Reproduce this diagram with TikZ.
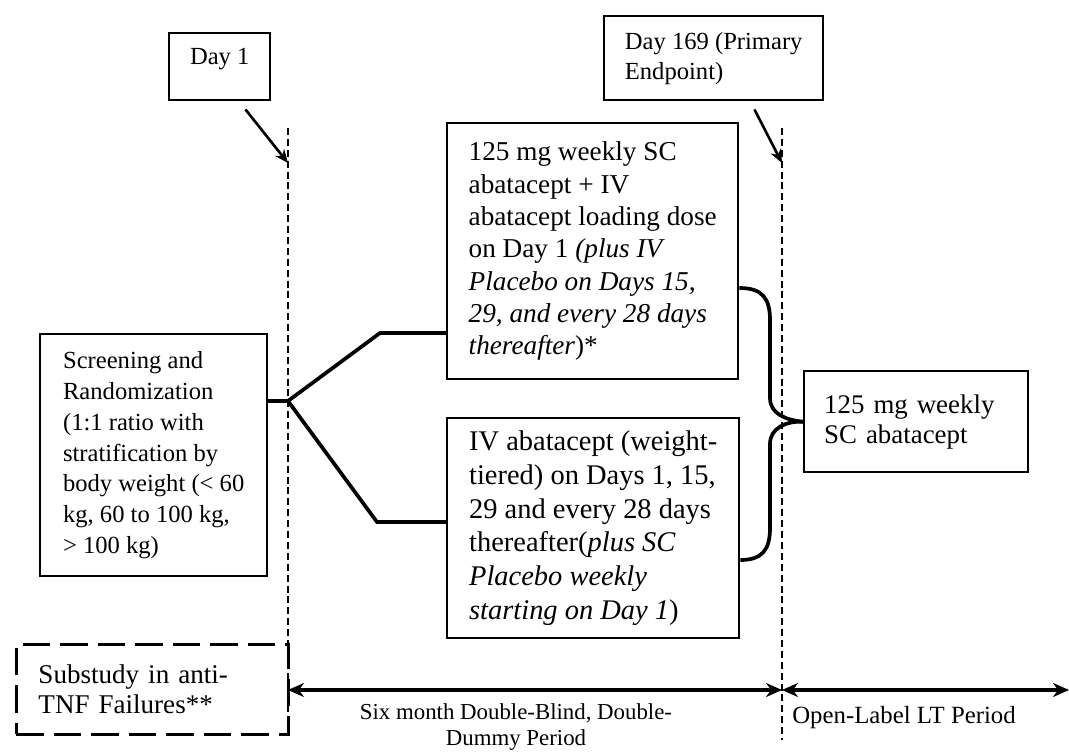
\documentclass[tikz,border=0pt]{standalone}
\usepackage{fontspec}
\setmainfont{Liberation Serif}
\newcommand{\fsz}[2]{\fontsize{#1}{#2}\selectfont}
\tikzset{box/.style = {draw, line width = 1.4pt, anchor = north west, align = left, inner xsep = 0, inner ysep = 0}}
\tikzset{subbox/.style = {box, line width = 1.7pt, dash pattern = on 0.55cm off 0.2cm, inner xsep = 0.44cm}}
\tikzset{vline/.style = {line width = 1.5pt, dash pattern = on 4pt off 2.2pt}}
\tikzset{link/.style = {line width = 2.1pt}}
\tikzset{span/.style = {line width = 2.1pt, {Stealth[length=0.32cm,width=0.28cm]}-{Stealth[length=0.32cm,width=0.28cm]}}}
\tikzset{pointer/.style = {line width = 1.5pt, -{Stealth[length=0.27cm,width=0.23cm]}}}
\usetikzlibrary{arrows.meta}

\begin{document}
\begin{tikzpicture}[x = 0.02cm, y = -0.02cm]
\useasboundingbox (0,0) rectangle (1069,753);
% time points
\node[box, align = center, minimum width = 2.02cm, minimum height = 1.34cm, text depth = 0.41cm, font = \fsz{14}{17}] (day1) at (168,32) {Day 1};
\node[box, minimum width = 4.38cm, minimum height = 1.68cm, font = \fsz{14}{17}] (day169) at (603,15) {Day 169 (Primary\\Endpoint)};
\coordinate (d1top) at (288,128);
\coordinate (d1hit) at (288,163);
\coordinate (d1end) at (288,735);
\coordinate (d2top) at (782,128);
\coordinate (d2hit) at (782,163);
\coordinate (d2end) at (782,740);
\draw[vline] (d1top) -- (d1end);
\draw[vline] (d2top) -- (d2end);
\draw[pointer] ([xshift = -0.52cm, yshift = -0.16cm]day1.south east) -- (d1hit);
\draw[pointer] ([xshift = -1.4cm, yshift = -0.16cm]day169.south east) -- (d2hit);
% boxes
\node[box, minimum width = 4.54cm, minimum height = 4.84cm, font = \fsz{14}{17.5}] (screen) at (39,333)
  {Screening and\\Randomization\\(1:1 ratio with\\stratification by\\body weight (< 60\\kg, 60 to 100 kg,\\> 100 kg)};
\node[box, minimum width = 5.82cm, minimum height = 5.12cm, font = \fsz{15.5}{18.4}] (armsc) at (446,122)
  {125 mg weekly SC\\abatacept + IV\\abatacept loading dose\\on Day 1 \textit{(plus IV}\\\textit{Placebo on Days 15,}\\\textit{29, and every 28 days}\\\textit{thereafter})*};
\node[box, minimum width = 5.84cm, minimum height = 4.4cm, font = \fsz{16.2}{19.3}] (armiv) at (446,417)
  {IV abatacept (weight-\\tiered) on Days 1, 15,\\29 and every 28 days\\thereafter(\textit{plus SC}\\\textit{Placebo weekly}\\\textit{starting on Day 1})};
\node[box, text width = 3.68cm, minimum height = 2.02cm, inner xsep = 0.4cm, font = \fsz{15.3}{17.2}] (ltbox) at (803,370)
  {125 mg weekly\\SC abatacept};
\node[subbox, text width = 4.56cm, minimum height = 1.8cm, font = \fsz{15.4}{17.2}] (sub) at (15,643) {Substudy in anti-\\TNF Failures**};
% randomization fork
\coordinate (fork) at (288,401);
\coordinate (forkup) at (380,333);
\coordinate (forklo) at (377,522);
\draw[link] (fork -| screen.east) -- (fork);
\draw[link] (fork) -- (forkup) -- (forkup -| armsc.west);
\draw[link] (fork) -- (forklo) -- (forklo -| armiv.west);
% brace into long term
\draw[link] (armsc.east |- 0,288) .. controls (762,288) and (770,298) .. (770,320) -- (770,398)
  .. controls (770,414) and (786,420) .. (ltbox.west);
\draw[link] (armiv.east |- 0,560) .. controls (762,560) and (770,550) .. (770,528) -- (770,444)
  .. controls (770,428) and (786,421) .. (ltbox.west);
% periods
\coordinate (p0) at (288,690);
\coordinate (p1) at (782,690);
\coordinate (p2) at (1069,690);
\draw[span] (p0) -- (p1);
\draw[span] (p1) -- (p2);
\node[align = center, inner sep = 0, font = \fsz{13}{15.3}] (dblbl) at (516,727) {Six month Double-Blind, Double-\\Dummy Period};
\node[anchor = west, inner sep = 0, font = \fsz{14.1}{17}] (ollbl) at (792,718) {Open-Label LT Period};
\end{tikzpicture}
\end{document}
